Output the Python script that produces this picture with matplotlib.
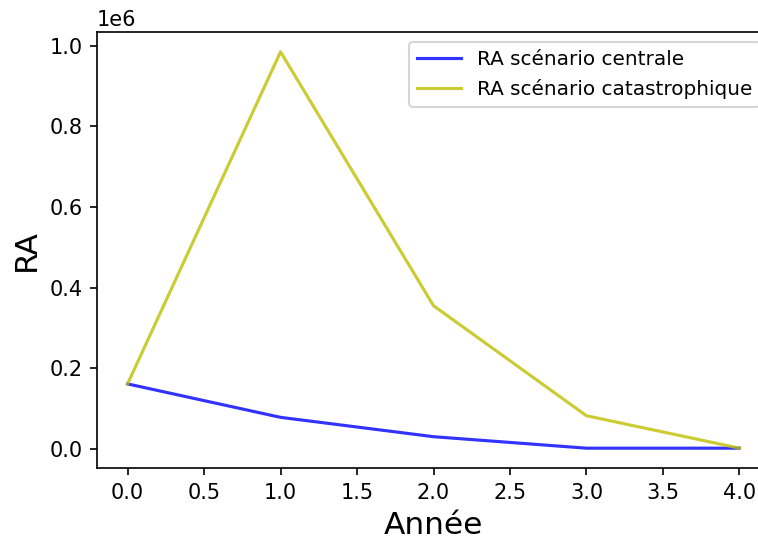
import matplotlib
matplotlib.use("Agg")
import matplotlib.pyplot as plt

annees = [0, 1, 2, 3, 4]
ra_centrale = [161000, 78000, 30000, 1500, 1500]
ra_catastrophique = [161000, 985000, 355000, 82000, 1500]

fig = plt.figure(figsize=(758/150, 541/150), dpi=150)
ax = fig.add_axes([97/758, 1-468/541, (770-97)/758, (468-32)/541])
ax.plot(annees, ra_centrale, color='b', alpha=0.8, label='RA scénario centrale')
ax.plot(annees, ra_catastrophique, color='y', alpha=0.8, label='RA scénario catastrophique')
ax.set_xlabel('Année', fontsize=15)
ax.set_ylabel('RA', fontsize=15)
ax.legend(loc='upper right', fontsize=9.6, handlelength=2.2)
fig.savefig('out.png', dpi=150)
